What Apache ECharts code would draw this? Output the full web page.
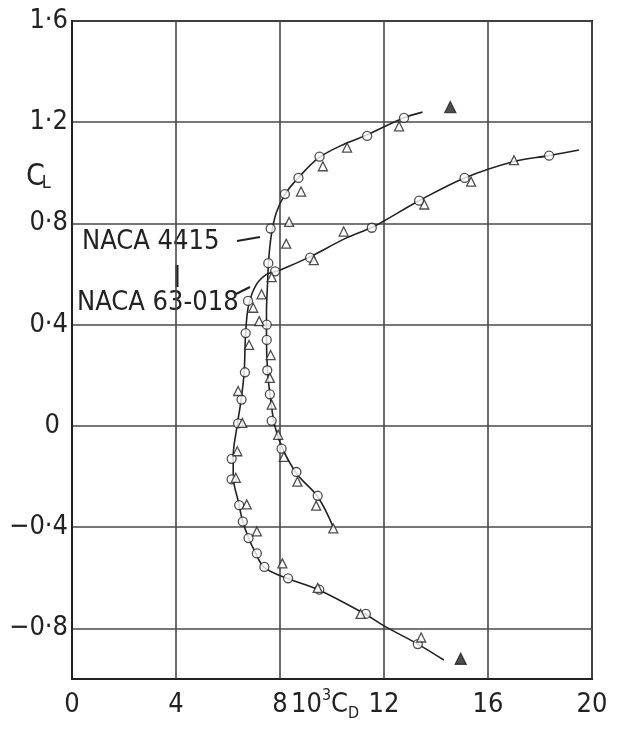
<!DOCTYPE html>
<html>
<head>
<meta charset="utf-8">
<script src="https://cdn.jsdelivr.net/npm/echarts@6/dist/echarts.min.js"></script>
<style>
  html, body { margin: 0; padding: 0; background: #fff; }
  #chart { width: 619px; height: 730px; }
</style>
</head>
<body>
<div id="chart"></div>
<script>
const xTicks = [0, 4, 8, 12, 16, 20];
const yTicks = [-0.8, -0.4, 0, 0.4, 0.8, 1.2, 1.6];

// faired curves, [10^3 CD, CL]
const naca4415Curve = [
  [10.05, -0.40], [9.45, -0.28], [8.65, -0.19], [8.1, -0.09], [7.8, 0.0],
  [7.62, 0.12], [7.52, 0.22], [7.48, 0.34], [7.48, 0.45], [7.52, 0.56],
  [7.56, 0.65], [7.66, 0.75], [7.85, 0.84], [8.19, 0.915], [8.7, 0.98],
  [9.5, 1.06], [10.5, 1.115], [11.35, 1.15], [12.7, 1.215], [13.48, 1.24]
];
const naca63018Curve = [
  [14.3, -0.925], [13.3, -0.862], [12.0, -0.79], [11.3, -0.745], [9.5, -0.648],
  [8.3, -0.603], [7.4, -0.56], [7.05, -0.5], [6.78, -0.44], [6.56, -0.375],
  [6.4, -0.3], [6.2, -0.2], [6.2, -0.12], [6.35, 0.0], [6.5, 0.1],
  [6.62, 0.21], [6.68, 0.37], [6.8, 0.48], [7.1, 0.56], [7.5, 0.6],
  [7.9, 0.612], [8.1, 0.62], [9.15, 0.668], [10.5, 0.74], [11.55, 0.785],
  [12.0, 0.81], [13.35, 0.89], [15.1, 0.98], [17.0, 1.045], [18.35, 1.068],
  [19.5, 1.09]
];

// measured points
const circles4415 = [
  [12.77, 1.217], [11.35, 1.146], [9.52, 1.064], [8.71, 0.98], [8.19, 0.916],
  [7.64, 0.78], [7.55, 0.643], [7.49, 0.40], [7.49, 0.34], [7.51, 0.22],
  [7.61, 0.125], [7.68, 0.02], [8.06, -0.09], [8.63, -0.182], [9.45, -0.276]
];
const triangles4415 = [
  [12.58, 1.184], [10.58, 1.10], [9.65, 1.026], [8.81, 0.926], [8.35, 0.806],
  [8.24, 0.72], [7.64, 0.28], [7.61, 0.19], [7.68, 0.084], [7.93, -0.035],
  [8.15, -0.122], [8.67, -0.22], [9.39, -0.315], [10.05, -0.405]
];
const circles63018 = [
  [13.3, -0.862], [11.3, -0.743], [9.51, -0.647], [8.31, -0.602], [7.4, -0.557],
  [7.11, -0.504], [6.79, -0.443], [6.57, -0.378], [6.43, -0.313], [6.14, -0.211],
  [6.14, -0.13], [6.39, 0.01], [6.52, 0.104], [6.65, 0.212], [6.68, 0.367],
  [6.77, 0.494], [7.81, 0.611], [9.16, 0.665], [11.53, 0.783], [13.35, 0.89],
  [15.1, 0.98], [18.35, 1.068]
];
const triangles63018 = [
  [13.43, -0.836], [11.1, -0.743], [9.45, -0.64], [8.09, -0.543], [7.11, -0.417],
  [6.72, -0.31], [6.3, -0.205], [6.36, -0.10], [6.55, 0.012], [6.39, 0.138],
  [6.81, 0.32], [7.2, 0.414], [6.97, 0.467], [7.29, 0.52], [7.68, 0.588],
  [9.3, 0.655], [10.45, 0.768], [13.55, 0.875], [15.35, 0.965], [17.0, 1.05]
];
const solidTriangles = [[14.55, 1.26], [14.95, -0.92]];

const ink = '#222';
const gridInk = '#4a4a4a';
const font = 'DejaVu Sans Condensed';

const chart = echarts.init(document.getElementById('chart'));

const lineSeries = (data) => ({
  type: 'line',
  data: data,
  smooth: 0.35,
  showSymbol: false,
  silent: true,
  lineStyle: { color: ink, width: 1.6 },
  z: 2
});
const pointSeries = (data, symbol, size, filled) => ({
  type: 'scatter',
  data: data,
  symbol: symbol,
  symbolSize: size,
  itemStyle: {
    color: filled ? ink : '#fff',
    borderColor: ink,
    borderWidth: 1.3
  },
  z: 3
});

const option = {
  backgroundColor: '#fff',
  animation: false,
  grid: {
    left: 72, right: 27, top: 21, bottom: 51,
    show: true, borderColor: ink, borderWidth: 2
  },
  xAxis: {
    type: 'value',
    min: 0, max: 20, interval: 4,
    axisLine: { show: true, onZero: false, lineStyle: { color: ink, width: 2 } },
    axisTick: { show: false },
    splitLine: { show: true, lineStyle: { color: gridInk, width: 1.6 } },
    axisLabel: {
      color: ink, fontFamily: font, fontSize: 27, margin: 12,
      formatter: v => xTicks.includes(v) ? String(v) : ''
    }
  },
  yAxis: {
    type: 'value',
    min: -1.0, max: 1.6,
    axisLine: { show: true, onZero: false, lineStyle: { color: ink, width: 2 } },
    axisTick: { show: false, customValues: yTicks },
    splitLine: { show: true, lineStyle: { color: gridInk, width: 1.6 } },
    axisLabel: {
      customValues: yTicks,
      color: ink, fontFamily: font, fontSize: 27, margin: 4,
      formatter: v => {
        if (Math.abs(v) < 1e-9) return '{z|0}';
        return (v < 0 ? '\u2212' : '') + Math.abs(v).toFixed(1).replace('.', '\u00b7');
      },
      rich: { z: { fontFamily: font, fontSize: 27, color: ink, padding: [0, 8, 0, 0] } }
    }
  },
  graphic: [
    {
      type: 'text', left: 26, top: 162,
      style: {
        text: '{c|C}{s|L}', fill: ink,
        rich: {
          c: { fontFamily: font, fontSize: 30, fill: ink },
          s: { fontFamily: font, fontSize: 18, fill: ink, verticalAlign: 'bottom', padding: [12, 0, 0, -3] }
        }
      }
    },
    {
      type: 'text', left: 291, top: 688,
      style: {
        text: '{n|10}{e|3}{n|C}{s|D}', fill: ink,
        rich: {
          n: { fontFamily: font, fontSize: 27, fill: ink },
          e: { fontFamily: font, fontSize: 16, fill: ink, verticalAlign: 'top', padding: [0, 0, 12, 0] },
          s: { fontFamily: font, fontSize: 16, fill: ink, padding: [18, 0, 0, 0] }
        }
      }
    },
    {
      type: 'text', left: 82, top: 228,
      style: { text: 'NACA 4415', fontFamily: font, fontSize: 27, fill: ink }
    },
    {
      type: 'line', shape: { x1: 237, y1: 241, x2: 260, y2: 237 },
      style: { stroke: ink, lineWidth: 2 }
    },
    {
      type: 'line', shape: { x1: 177, y1: 265, x2: 177, y2: 287 },
      style: { stroke: ink, lineWidth: 3 }
    },
    {
      type: 'text', left: 77, top: 289,
      style: { text: 'NACA 63-018', fontFamily: font, fontSize: 27, fill: ink }
    },
    {
      type: 'line', shape: { x1: 236, y1: 294, x2: 250, y2: 287 },
      style: { stroke: ink, lineWidth: 2 }
    }
  ],
  series: [
    lineSeries(naca4415Curve),
    lineSeries(naca63018Curve),
    pointSeries(circles4415, 'circle', 9, false),
    pointSeries(circles63018, 'circle', 9, false),
    pointSeries(triangles4415, 'triangle', 9, false),
    pointSeries(triangles63018, 'triangle', 9, false),
    pointSeries(solidTriangles, 'triangle', 11, true)
  ]
};

chart.setOption(option);
</script>
</body>
</html>
